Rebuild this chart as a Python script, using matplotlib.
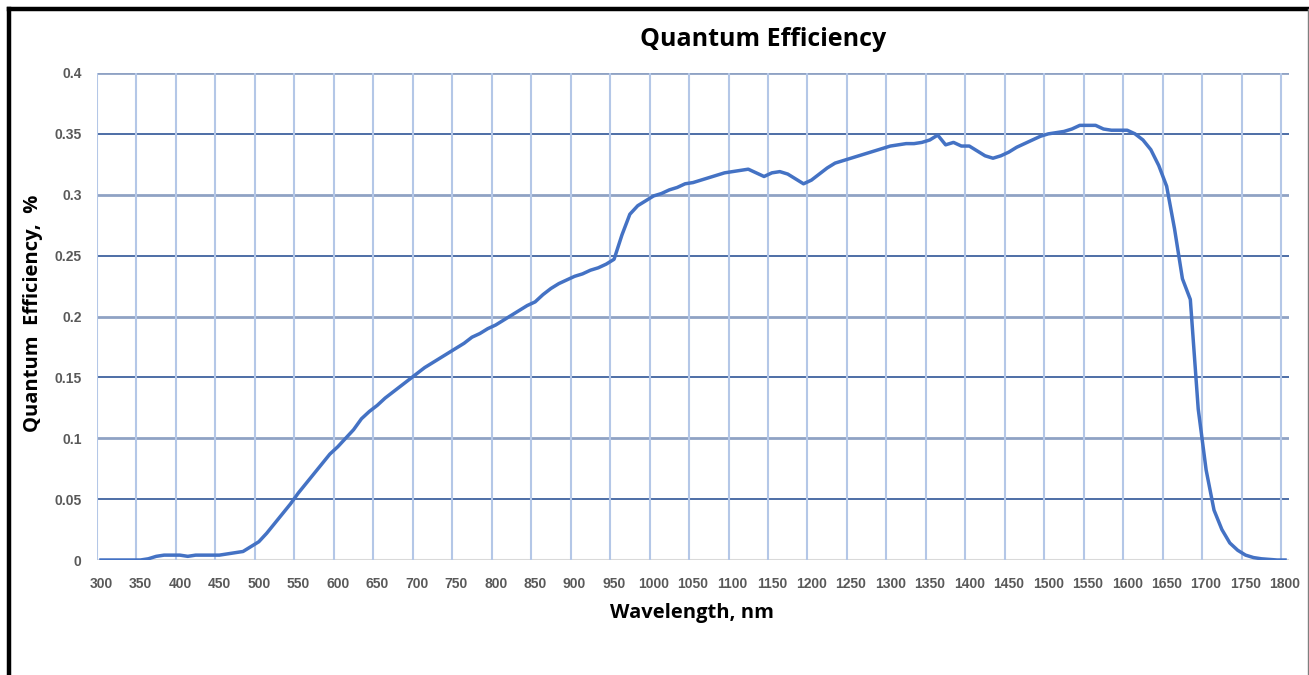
import matplotlib
matplotlib.use("Agg")
import numpy as np
from matplotlib import pyplot as plt
from matplotlib.lines import Line2D
from matplotlib.ticker import FixedLocator

# wavelength (nm), sampled every 10 nm
wavelength = list(range(300, 1810, 10))

# quantum efficiency, 10 values per 100 nm
qe = [
    0.000, 0.000, 0.000, 0.000, 0.000, 0.000, 0.001, 0.003, 0.004, 0.004,   # 300-390
    0.004, 0.003, 0.004, 0.004, 0.004, 0.004, 0.005, 0.006, 0.007, 0.011,   # 400-490
    0.015, 0.022, 0.030, 0.038, 0.046, 0.055, 0.063, 0.071, 0.079, 0.087,   # 500-590
    0.093, 0.100, 0.107, 0.116, 0.122, 0.127, 0.133, 0.138, 0.143, 0.148,   # 600-690
    0.153, 0.158, 0.162, 0.166, 0.170, 0.174, 0.178, 0.183, 0.186, 0.190,   # 700-790
    0.193, 0.197, 0.201, 0.205, 0.209, 0.212, 0.218, 0.223, 0.227, 0.230,   # 800-890
    0.233, 0.235, 0.238, 0.240, 0.243, 0.247, 0.267, 0.284, 0.291, 0.295,   # 900-990
    0.299, 0.301, 0.304, 0.306, 0.309, 0.310, 0.312, 0.314, 0.316, 0.318,   # 1000-1090
    0.319, 0.320, 0.321, 0.318, 0.315, 0.318, 0.319, 0.317, 0.313, 0.309,   # 1100-1190
    0.312, 0.317, 0.322, 0.326, 0.328, 0.330, 0.332, 0.334, 0.336, 0.338,   # 1200-1290
    0.340, 0.341, 0.342, 0.342, 0.343, 0.345, 0.349, 0.341, 0.343, 0.340,   # 1300-1390
    0.340, 0.336, 0.332, 0.330, 0.332, 0.335, 0.339, 0.342, 0.345, 0.348,   # 1400-1490
    0.350, 0.351, 0.352, 0.354, 0.357, 0.357, 0.357, 0.354, 0.353, 0.353,   # 1500-1590
    0.353, 0.350, 0.345, 0.337, 0.324, 0.307, 0.272, 0.231, 0.214, 0.124,   # 1600-1690
    0.074, 0.041, 0.025, 0.014, 0.008, 0.004, 0.002, 0.001, 0.0005, 0.000,  # 1700-1790
    0.000,                                                                  # 1800
]

xtick_labels = [str(v) for v in range(300, 1801, 50)]
ytick_values = [0, 0.05, 0.1, 0.15, 0.2, 0.25, 0.3, 0.35, 0.4]

plt.rcParams['font.family'] = ['Liberation Sans', 'DejaVu Sans']

fig = plt.figure(figsize=(13.09, 6.75), dpi=100)
ax = fig.add_axes([97 / 1309, 1 - 560 / 675, (1289 - 97) / 1309, (560 - 73) / 675])

# gridlines: category boundaries for x, alternating colours for y
ax.set_xlim(295, 1805)
ax.set_ylim(0, 0.4)
ax.xaxis.set_minor_locator(FixedLocator(np.arange(295, 1800, 50)))
ax.grid(which='minor', axis='x', color='#B4C7E7', lw=1.5, zorder=0)
for i, yv in enumerate(ytick_values[1:], start=1):
    if i % 2 == 0:
        ax.axhline(yv, color='#8FA2C4', lw=2.0, zorder=0)
    else:
        ax.axhline(yv, color='#2F5597', lw=1.2, zorder=0)
ax.axhline(0, color='#D9D9D9', lw=1.5, zorder=1)

ax.plot(wavelength, qe, color='#4472C4', lw=2.5, zorder=3, solid_joinstyle='round')

ax.set_xticks(list(range(300, 1801, 50)))
ax.set_xticklabels(xtick_labels)
ax.set_yticks(ytick_values)
ax.set_yticklabels(['%g' % v for v in ytick_values])
ax.tick_params(axis='both', which='both', length=0, labelsize=10, labelcolor='#595959')
ax.tick_params(axis='x', pad=12)
ax.tick_params(axis='y', pad=11)
for lab in ax.get_xticklabels() + ax.get_yticklabels():
    lab.set_fontweight('bold')
for s in ax.spines.values():
    s.set_visible(False)

fig.text(763 / 1309, 1 - 40 / 675, 'Quantum Efficiency', ha='center', va='center',
         fontsize=18, fontweight='bold', family=['Open Sans', 'DejaVu Sans'])
fig.text(692 / 1309, 1 - 613 / 675, 'Wavelength, nm', ha='center', va='center',
         fontsize=14.5, fontweight='bold', family=['Open Sans', 'DejaVu Sans'])
fig.text(33 / 1309, 1 - 313 / 675, 'Quantum  Efficiency,  %', ha='center', va='center',
         rotation=90, fontsize=14.5, fontweight='bold', family=['Open Sans', 'DejaVu Sans'])

# outer frame of the chart
fig.add_artist(Line2D([9 / 1309, 9 / 1309], [0, 1 - 9 / 675], color='black', lw=3.2,
                      transform=fig.transFigure, solid_capstyle='projecting'))
fig.add_artist(Line2D([9 / 1309, 1], [1 - 9 / 675, 1 - 9 / 675], color='black', lw=3.2,
                      transform=fig.transFigure, solid_capstyle='projecting'))
fig.add_artist(Line2D([1307.5 / 1309, 1307.5 / 1309], [0, 1 - 9 / 675], color='#7F7F7F',
                      lw=1.0, transform=fig.transFigure))

fig.savefig('out.png', dpi=100, facecolor='white')
